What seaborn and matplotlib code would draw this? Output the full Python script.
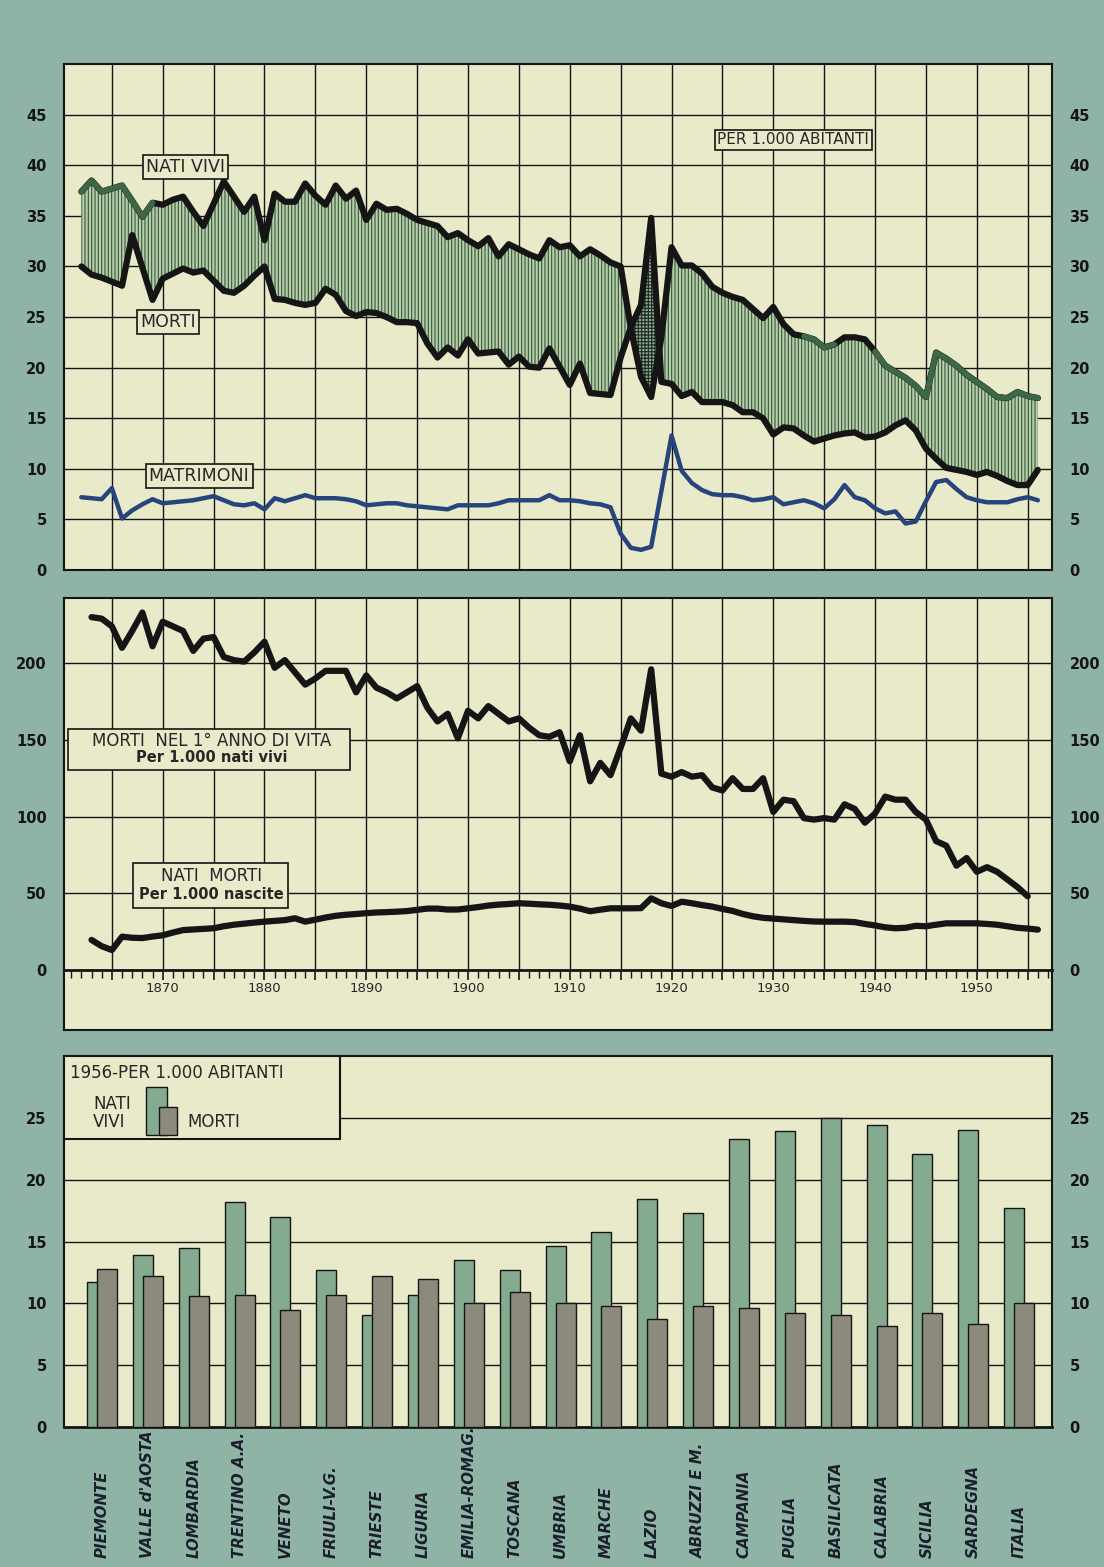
import numpy as np
import matplotlib
matplotlib.use('Agg')
import matplotlib.pyplot as plt
import matplotlib.transforms as mtransforms
from matplotlib.patches import Rectangle
from matplotlib.ticker import FuncFormatter, MultipleLocator
import seaborn as sns

# ---- serie storiche (per 1000 abitanti) ----
years = np.arange(1862, 1957)
nati_vivi = [37.4, 38.5, 37.4, 37.7, 38.0, 36.5, 34.9, 36.3, 36.1, 36.6,
             36.9, 35.4, 34.0, 36.2, 38.4, 36.9, 35.4, 36.9, 32.6, 37.2,
             36.4, 36.4, 38.2, 37.0, 36.1, 38.0, 36.7, 37.5, 34.6, 36.2,
             35.6, 35.7, 35.2, 34.6, 34.3, 34.0, 32.9, 33.3, 32.6, 32.0,
             32.8, 31.0, 32.2, 31.7, 31.2, 30.8, 32.6, 31.9, 32.1, 31.0,
             31.7, 31.1, 30.4, 30.0, 23.9, 19.1, 17.1, 23.0, 31.9, 30.1,
             30.1, 29.3, 28.0, 27.4, 27.0, 26.7, 25.8, 24.9, 26.0, 24.3,
             23.3, 23.1, 22.8, 22.0, 22.3, 23.0, 23.0, 22.8, 21.6, 20.2,
             19.6, 19.0, 18.2, 17.1, 21.5, 20.9, 20.2, 19.3, 18.6, 17.9,
             17.1, 17.0, 17.6, 17.2, 17.0]
morti = [30.0, 29.2, 28.9, 28.5, 28.1, 33.1, 29.9, 26.7, 28.8, 29.3,
         29.8, 29.4, 29.6, 28.6, 27.6, 27.4, 28.1, 29.1, 30.0, 26.8,
         26.7, 26.4, 26.2, 26.4, 27.8, 27.2, 25.6, 25.1, 25.5, 25.4,
         25.0, 24.5, 24.5, 24.4, 22.4, 21.0, 22.0, 21.2, 22.8, 21.4,
         21.5, 21.6, 20.3, 21.1, 20.1, 20.0, 21.9, 20.1, 18.3, 20.4,
         17.5, 17.4, 17.3, 21.0, 24.0, 26.2, 34.8, 18.6, 18.4, 17.2,
         17.6, 16.6, 16.6, 16.6, 16.3, 15.6, 15.6, 15.0, 13.4, 14.1,
         14.0, 13.3, 12.7, 13.0, 13.3, 13.5, 13.6, 13.1, 13.2, 13.6,
         14.3, 14.8, 13.8, 12.0, 11.0, 10.1, 9.9, 9.7, 9.4, 9.7,
         9.3, 8.8, 8.4, 8.4, 9.9]
matrimoni = [7.2, 7.1, 7.0, 8.1, 5.1, 5.9, 6.5, 7.0, 6.6, 6.7,
             6.8, 6.9, 7.1, 7.3, 6.9, 6.5, 6.4, 6.6, 6.0, 7.1,
             6.8, 7.1, 7.4, 7.1, 7.1, 7.1, 7.0, 6.8, 6.4, 6.5,
             6.6, 6.6, 6.4, 6.3, 6.2, 6.1, 6.0, 6.4, 6.4, 6.4,
             6.4, 6.6, 6.9, 6.9, 6.9, 6.9, 7.4, 6.9, 6.9, 6.8,
             6.6, 6.5, 6.2, 3.6, 2.2, 2.0, 2.3, 7.8, 13.3, 9.8,
             8.6, 7.9, 7.5, 7.4, 7.4, 7.2, 6.9, 7.0, 7.2, 6.5,
             6.7, 6.9, 6.6, 6.1, 7.0, 8.4, 7.2, 6.9, 6.1, 5.6,
             5.8, 4.6, 4.8, 6.8, 8.7, 8.9, 8.0, 7.2, 6.9, 6.7,
             6.7, 6.7, 7.0, 7.2, 6.9]

# morti nel 1 anno di vita (per 1000 nati vivi)
anni_infantile = np.arange(1863, 1956)
morti_primo_anno = [230, 229, 224, 210, 221, 233, 211, 227, 224, 221,
                    208, 216, 217, 204, 202, 201, 207, 214, 197, 202,
                    194, 186, 190, 195, 195, 195, 181, 192, 184, 181,
                    177, 181, 185, 171, 162, 167, 151, 169, 164, 172,
                    167, 162, 164, 158, 153, 152, 155, 136, 153, 123,
                    135, 127, 145, 164, 156, 196, 128, 126, 129, 126,
                    127, 119, 117, 125, 118, 118, 125, 103, 111, 110,
                    99, 98, 99, 98, 108, 105, 96, 102, 113, 111,
                    111, 103, 98, 84, 81, 68, 73, 64, 67, 64,
                    59, 54, 48]

# nati morti (per 1000 nascite)
anni_nati_morti = np.arange(1863, 1957)
nati_morti = [19.6, 15.5, 13.0, 21.7, 21.0, 20.8, 21.8, 22.6, 24.4, 26.0,
              26.4, 26.8, 27.2, 28.5, 29.5, 30.2, 30.9, 31.5, 32.0, 32.5,
              33.7, 31.5, 32.8, 34.2, 35.3, 36.0, 36.5, 37.0, 37.5, 37.7,
              38.0, 38.4, 39.2, 40.0, 40.0, 39.4, 39.4, 40.2, 41.0, 42.0,
              42.6, 43.0, 43.5, 43.2, 42.8, 42.5, 42.0, 41.3, 40.0, 38.3,
              39.3, 40.2, 40.2, 40.2, 40.3, 46.7, 43.5, 41.7, 44.5, 43.5,
              42.3, 41.3, 39.8, 38.5, 36.5, 35.0, 34.0, 33.5, 33.0, 32.5,
              32.0, 31.6, 31.5, 31.5, 31.5, 31.2, 30.0, 29.0, 27.8, 27.2,
              27.5, 28.8, 28.5, 29.5, 30.4, 30.4, 30.4, 30.4, 30.0, 29.5,
              28.5, 27.5, 27.0, 26.3]

# ---- 1956 per regione ----
regioni = ['PIEMONTE', "VALLE d'AOSTA", 'LOMBARDIA', 'TRENTINO A.A.', 'VENETO',
           'FRIULI-V.G.', 'TRIESTE', 'LIGURIA', 'EMILIA-ROMAG.', 'TOSCANA',
           'UMBRIA', 'MARCHE', 'LAZIO', 'ABRUZZI E M.', 'CAMPANIA', 'PUGLIA',
           'BASILICATA', 'CALABRIA', 'SICILIA', 'SARDEGNA', 'ITALIA']
nati_1956 = [11.7, 13.9, 14.5, 18.2, 17.0, 12.7, 9.1, 10.7, 13.5, 12.7, 14.6,
             15.8, 18.4, 17.3, 23.3, 23.9, 25.0, 24.4, 22.1, 24.0, 17.7]
morti_1956 = [12.8, 12.2, 10.6, 10.7, 9.5, 10.7, 12.2, 12.0, 10.0, 10.9, 10.0,
              9.8, 8.7, 9.8, 9.6, 9.2, 9.1, 8.2, 9.2, 8.3, 10.0]

TEAL = '#8fb3a5'
CREAM = '#e9eac9'
INK = '#151515'
GREEN_LINE = '#3d6847'
BLUE = '#27447c'
GREEN_BAR = '#84ab90'
GREY_BAR = '#8c8a7d'

sns.set_style('white', {'axes.facecolor': CREAM, 'figure.facecolor': TEAL,
                        'axes.edgecolor': INK})
plt.rcParams['font.family'] = ['DejaVu Sans']
plt.rcParams['font.weight'] = 'bold'
plt.rcParams['hatch.linewidth'] = 0.8

fig = plt.figure(figsize=(11.04, 15.67), dpi=100)
fig.patch.set_facecolor(TEAL)

box_style = dict(boxstyle='square,pad=0.18', fc=CREAM, ec=INK, lw=1.2)


def frame(ax):
    for s in ax.spines.values():
        s.set_visible(True)
        s.set_color(INK)
        s.set_linewidth(1.5)


def ylabels_both(ax):
    ax.tick_params(axis='y', left=False, right=False, labelleft=True,
                   labelright=True, pad=9, labelsize=10.5, labelcolor=INK)


# ================= pannello 1: nati, morti, matrimoni =================
ax1 = fig.add_axes([0.058, 0.6362, 0.895, 0.3229])
nv = np.array(nati_vivi)
mo = np.array(morti)
with plt.rc_context({'hatch.color': '#33563b'}):
    ax1.fill_between(years, mo, nv, where=nv >= mo, interpolate=True,
                     facecolor='#b8cfa9', edgecolor='#33563b', hatch='|||||',
                     linewidth=0, zorder=2)
with plt.rc_context({'hatch.color': '#1b2a1f'}):
    ax1.fill_between(years, mo, nv, where=nv < mo, interpolate=True,
                     facecolor='#8fa88f', edgecolor='#1b2a1f', hatch='+++++',
                     linewidth=0, zorder=2)

sns.lineplot(x=years, y=nati_vivi, ax=ax1, color=INK, linewidth=4.5,
             errorbar=None, zorder=4)
for a, b in [(1862, 1869), (1933, 1936), (1940, 1956)]:
    m = (years >= a) & (years <= b)
    sns.lineplot(x=years[m], y=nv[m], ax=ax1, color=GREEN_LINE,
                 linewidth=4.0, errorbar=None, zorder=5)
sns.lineplot(x=years, y=morti, ax=ax1, color=INK, linewidth=4.5,
             errorbar=None, zorder=4)
sns.lineplot(x=years, y=matrimoni, ax=ax1, color=BLUE, linewidth=3.2,
             errorbar=None, zorder=4)

ax1.set_xlim(1860.3, 1957.4)
ax1.set_ylim(0, 50)
ax1.set_xticks(np.arange(1865, 1956, 5))
ax1.set_yticks(np.arange(0, 46, 5))
ax1.grid(True, color=INK, linewidth=1.0)
ax1.set_axisbelow(True)
ax1.tick_params(axis='x', bottom=False, labelbottom=False)
ylabels_both(ax1)
ax1.set_xlabel('')
ax1.set_ylabel('')
frame(ax1)

ax1.text(0.1228, 0.797, 'NATI VIVI', transform=ax1.transAxes, ha='center',
         va='center', fontsize=12.5, fontweight='normal', bbox=box_style, zorder=6)
ax1.text(0.1048, 0.49, 'MORTI', transform=ax1.transAxes, ha='center',
         va='center', fontsize=12.5, fontweight='normal', bbox=box_style, zorder=6)
ax1.text(0.1366, 0.186, 'MATRIMONI', transform=ax1.transAxes, ha='center',
         va='center', fontsize=12.5, fontweight='normal', bbox=box_style, zorder=6)
ax1.text(0.738, 0.85, 'PER 1.000 ABITANTI', transform=ax1.transAxes,
         ha='center', va='center', fontsize=11, fontweight='normal',
         bbox=box_style, zorder=6)

# ================= pannello 2: mortalita infantile, nati morti =================
strip = fig.add_axes([0.058, 0.3427, 0.895, 0.0383])
strip.set_xticks([])
strip.set_yticks([])
frame(strip)

ax2 = fig.add_axes([0.058, 0.381, 0.895, 0.2374])
sns.lineplot(x=anni_infantile, y=morti_primo_anno, ax=ax2, color=INK,
             linewidth=4.5, errorbar=None, zorder=4)
sns.lineplot(x=anni_nati_morti, y=nati_morti, ax=ax2, color=INK,
             linewidth=4.5, errorbar=None, zorder=4)
ax2.set_xlim(1860.3, 1957.4)
ax2.set_ylim(0, 242.5)
ax2.set_yticks(np.arange(0, 201, 50))
ax2.xaxis.set_major_locator(MultipleLocator(5))
ax2.xaxis.set_minor_locator(MultipleLocator(1))
ax2.xaxis.set_major_formatter(
    FuncFormatter(lambda v, p: f'{int(round(v))}' if int(round(v)) % 10 == 0 else ''))
ax2.grid(True, which='major', color=INK, linewidth=1.0)
ax2.set_axisbelow(True)
ax2.tick_params(axis='x', which='major', bottom=True, direction='out',
                length=7, width=1.2, color=INK, pad=2, labelsize=9.5)
ax2.tick_params(axis='x', which='minor', bottom=True, direction='out',
                length=5.5, width=1.0, color=INK)
for lab in ax2.get_xticklabels():
    lab.set_fontweight('normal')
ylabels_both(ax2)
ax2.set_xlabel('')
ax2.set_ylabel('')
frame(ax2)
ax2.spines['bottom'].set_linewidth(2.0)

ax2.add_patch(Rectangle((0.004, 0.5376), 0.2855, 0.1102, transform=ax2.transAxes,
                        fc=CREAM, ec=INK, lw=1.2, zorder=6))
ax2.text(0.149, 0.6156, 'MORTI  NEL 1° ANNO DI VITA', transform=ax2.transAxes,
         ha='center', va='center', fontsize=12, fontweight='normal', zorder=7)
ax2.text(0.149, 0.570, 'Per 1.000 nati vivi', transform=ax2.transAxes,
         ha='center', va='center', fontsize=10.5, zorder=7)
ax2.add_patch(Rectangle((0.0698, 0.1667), 0.1569, 0.1209, transform=ax2.transAxes,
                        fc=CREAM, ec=INK, lw=1.2, zorder=6))
ax2.text(0.1498, 0.2527, 'NATI  MORTI', transform=ax2.transAxes,
         ha='center', va='center', fontsize=12, fontweight='normal', zorder=7)
ax2.text(0.1488, 0.2016, 'Per 1.000 nascite', transform=ax2.transAxes,
         ha='center', va='center', fontsize=10.5, zorder=7)

# ================= pannello 3: barre 1956 =================
ax3 = fig.add_axes([0.058, 0.0893, 0.895, 0.2368])
pos = np.arange(len(regioni))
sns.barplot(x=pos - 0.109, y=nati_1956, ax=ax3, native_scale=True, orient='x',
            width=0.436, color=GREEN_BAR, saturation=1, edgecolor=INK,
            linewidth=1.0, errorbar=None, zorder=3)
sns.barplot(x=pos + 0.109, y=morti_1956, ax=ax3, native_scale=True, orient='x',
            width=0.436, color=GREY_BAR, saturation=1, edgecolor=INK,
            linewidth=1.0, errorbar=None, zorder=4)
ax3.set_xlim(-0.83, 20.72)
ax3.set_ylim(0, 30)
ax3.set_yticks(np.arange(0, 26, 5))
ax3.set_xticks([])
ax3.grid(True, axis='y', color=INK, linewidth=1.0)
ax3.grid(False, axis='x')
ax3.set_axisbelow(True)
ylabels_both(ax3)
ax3.set_xlabel('')
ax3.set_ylabel('')
frame(ax3)
ax3.spines['bottom'].set_linewidth(2.0)

trans = mtransforms.blended_transform_factory(ax3.transData, fig.transFigure)
for i, nome in enumerate(regioni):
    ax3.text(i, 0.006, nome, transform=trans, rotation=90, ha='center',
             va='bottom', fontsize=10.8, fontstyle='italic', fontweight='bold',
             color='#1a1f2b')

# legenda
ax3.add_patch(Rectangle((0.0, 0.7755), 0.2794, 0.2245, transform=ax3.transAxes,
                        fc=CREAM, ec=INK, lw=1.5, zorder=6))
ax3.text(0.006, 0.954, '1956-PER 1.000 ABITANTI', transform=ax3.transAxes,
         ha='left', va='center', fontsize=12, fontweight='normal', zorder=7)
ax3.text(0.0294, 0.846, 'NATI\nVIVI', transform=ax3.transAxes, ha='left',
         va='center', fontsize=12, fontweight='normal', linespacing=1.05, zorder=7)
ax3.add_patch(Rectangle((0.083, 0.787), 0.0213, 0.13, transform=ax3.transAxes,
                        fc=GREEN_BAR, ec=INK, lw=1.0, zorder=7))
ax3.add_patch(Rectangle((0.0962, 0.787), 0.0182, 0.0763, transform=ax3.transAxes,
                        fc=GREY_BAR, ec=INK, lw=1.0, zorder=8))
ax3.text(0.1245, 0.8208, 'MORTI', transform=ax3.transAxes, ha='left',
         va='center', fontsize=12, fontweight='normal', zorder=7)

fig.savefig('out.png', dpi=100, facecolor=fig.get_facecolor())
